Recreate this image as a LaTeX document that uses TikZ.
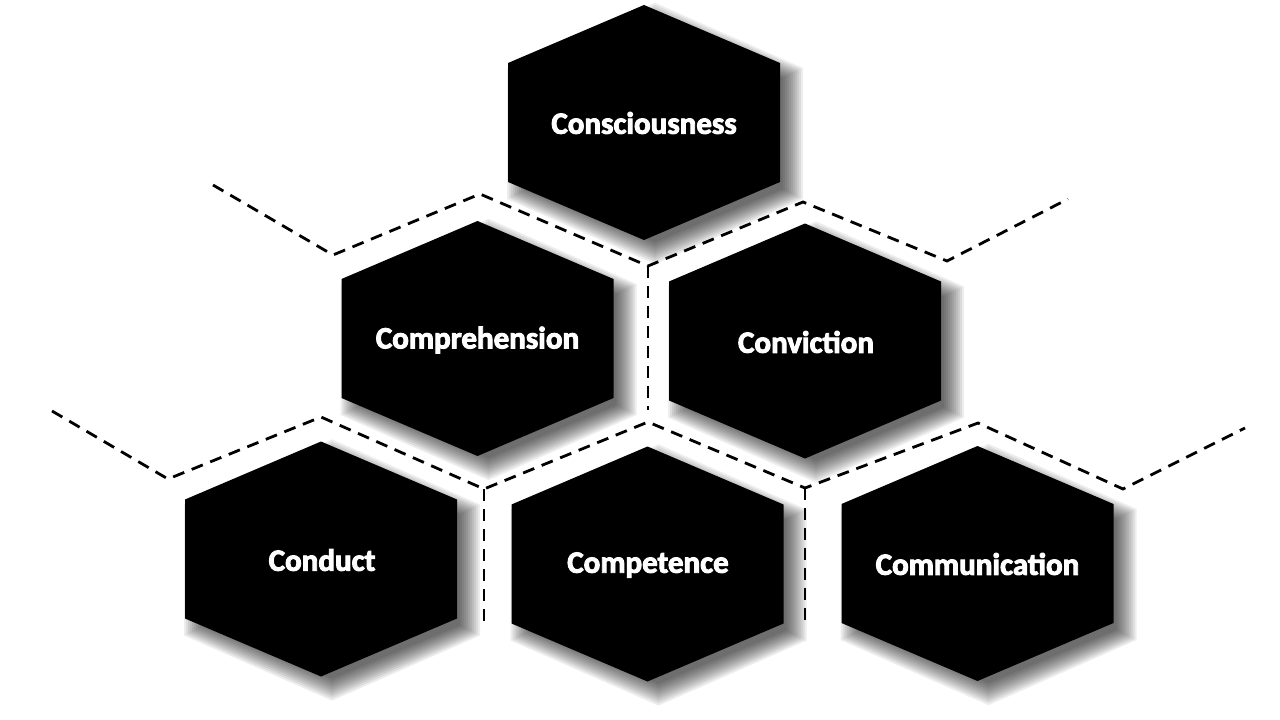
\documentclass[tikz,border=0pt]{standalone}
\usepackage{fontspec}
\newfontfamily\hexfont{Carlito}[BoldFeatures={FakeBold=3}]
\begin{document}
\begin{tikzpicture}[x=1pt,y=-1pt,
  hexfill/.style={fill=black},
  shadowlayer/.style={fill=black,fill opacity=0.07},
  hexlabel/.style={text=white,font=\hexfont\bfseries\fontsize{31}{36}\selectfont,inner sep=0pt},
  guide/.style={draw=black,line width=2.8pt,dash pattern=on 12pt off 8pt}]
\useasboundingbox (0,0) rectangle (1280,720);
\fill[white] (0,0) rectangle (1280,720);
\def\hexlist{644/122.5, 477.5/338.5, 805/341, 321/559, 647.5/564, 977.5/563.5}
% soft shadows
\foreach \cx/\cy in \hexlist{
  \foreach \e in {-8,-6,...,12}{
    \fill[shadowlayer] ({\cx+11-136-\e},{\cy+11-59.5-0.5*\e}) -- ({\cx+11},{\cy+11-117.5-1.1*\e}) -- ({\cx+11+136+\e},{\cy+11-59.5-0.5*\e}) -- ({\cx+11+136+\e},{\cy+11+59.5+0.5*\e}) -- ({\cx+11},{\cy+11+117.5+1.1*\e}) -- ({\cx+11-136-\e},{\cy+11+59.5+0.5*\e}) -- cycle;
  }
}
% guide coordinates
\coordinate (a1) at (213,185);
\coordinate (a2) at (333,255);
\coordinate (a3) at (480,194);
\coordinate (a4) at (648,266);
\coordinate (a5) at (803,202);
\coordinate (a6) at (947,261);
\coordinate (a7) at (1068,199);
\coordinate (a8) at (648,410);
\coordinate (b1) at (52,411);
\coordinate (b2) at (168,479);
\coordinate (b3) at (321,417);
\coordinate (b4) at (484,489);
\coordinate (b5) at (648,422);
\coordinate (b6) at (805,488);
\coordinate (b7) at (978,423);
\coordinate (b8) at (1123,489);
\coordinate (b9) at (1245,428);
\coordinate (b10) at (484,622);
\coordinate (b11) at (805,622);
\draw[guide] (a1) -- (a2) -- (a3) -- (a4) -- (a5) -- (a6) -- (a7);
\draw[guide] (a4) -- (a8);
\draw[guide] (b1) -- (b2) -- (b3) -- (b4) -- (b5) -- (b6) -- (b7) -- (b8) -- (b9);
\draw[guide] (b4) -- (b10);
\draw[guide] (b6) -- (b11);
% hexagons
\foreach \cx/\cy in \hexlist{
  \fill[hexfill] ({\cx-136},{\cy-59.5}) -- (\cx,{\cy-117.5}) -- ({\cx+136},{\cy-59.5}) -- ({\cx+136},{\cy+59.5}) -- (\cx,{\cy+117.5}) -- ({\cx-136},{\cy+59.5}) -- cycle;
}
% labels
\node[hexlabel] (consciousness) at (644,123) {Consciousness};
\node[hexlabel] (comprehension) at (477.5,340) {Comprehension};
\node[hexlabel] (conviction) at (806,342) {Conviction};
\node[hexlabel] (conduct) at (322,560) {Conduct};
\node[hexlabel] (competence) at (648,565) {Competence};
\node[hexlabel] (communication) at (977.5,564) {Communication};
\end{tikzpicture}
\end{document}
